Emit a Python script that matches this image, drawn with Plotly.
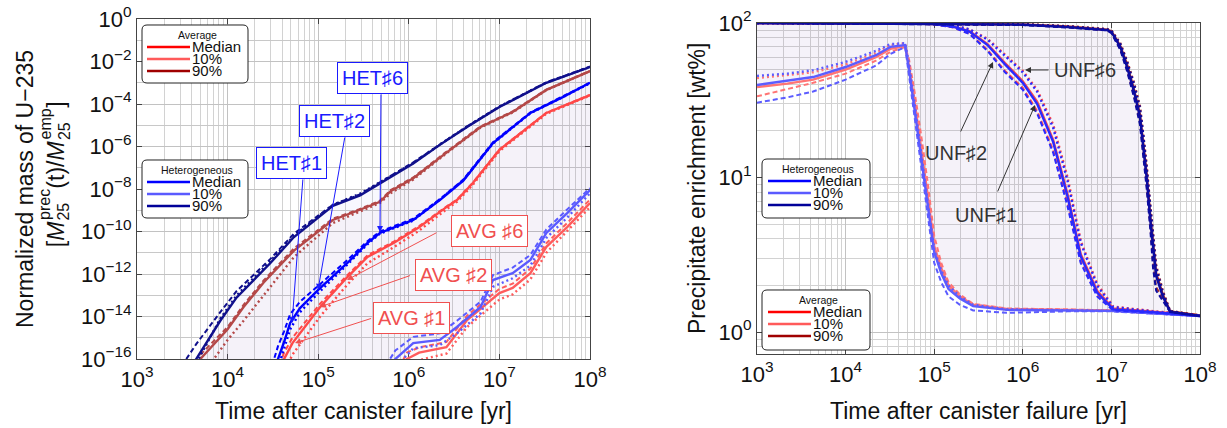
import plotly.graph_objects as go

W, H = 1227, 428
FONT = "Liberation Sans, Arial, sans-serif"

# ================= LEFT PANEL: normalized U-235 mass =================
# HET 90th percentile (cases #1 solid, #2 dashed, #6 dotted)
het90_t = [3.5e3, 4.5e3, 8.3e3, 1.26e4, 2.95e4, 5.4e4, 1e5, 1.45e5, 2.9e5, 5.2e5,
           1.12e6, 2.24e6, 4.4e6, 1e7, 3.3e7, 1e8]
het90_c1 = [1.6e-17, 1e-16, 6.3e-15, 7.9e-14, 3.2e-12, 5.5e-11, 4.5e-10, 1.6e-9, 5e-9, 2.2e-8,
            1.6e-7, 1.26e-6, 8.3e-6, 7.2e-5, 1e-3, 5.5e-3]
het90_c2 = [1e-16, 5e-16, 1.6e-14, 1.6e-13, 5e-12, 7.9e-11, 5.6e-10, 1.8e-9, 5.6e-9, 2.5e-8,
            1.8e-7, 1.3e-6, 8.9e-6, 7.6e-5, 1.05e-3, 5.8e-3]
het90_c6 = [1e-17, 6.3e-17, 7.9e-15, 1e-13, 4e-12, 6.3e-11, 5e-10, 1.8e-9, 6e-9, 2.5e-8,
            1.66e-7, 1.3e-6, 8.7e-6, 7.6e-5, 1.02e-3, 5.6e-3]

# AVG 90th percentile
avg90_t = [5.0e3, 1e4, 1.5e4, 2.5e4, 5.4e4, 1.45e5, 2.8e5, 4.8e5, 6.3e5, 1.12e6,
           2.5e6, 6.2e6, 1.4e7, 3.3e7, 1e8]
avg90_c1 = [1e-16, 2.5e-15, 2.8e-14, 4e-13, 1.26e-11, 3.5e-10, 1e-9, 2.5e-9, 7.9e-9, 3.2e-8,
            4.5e-7, 8.3e-6, 4.2e-5, 4.6e-4, 3.5e-3]
avg90_c2 = [1.6e-16, 3.2e-15, 3.5e-14, 5e-13, 1.6e-11, 4e-10, 1.1e-9, 2.8e-9, 8.9e-9, 3.5e-8,
            5e-7, 8.9e-6, 4.5e-5, 4.8e-4, 3.6e-3]
avg90_c6 = [1.3e-17, 7.9e-16, 6.3e-15, 1e-13, 6.3e-12, 2.5e-10, 7.9e-10, 2.2e-9, 6.3e-9, 2.8e-8,
            4.2e-7, 7.9e-6, 4e-5, 4.5e-4, 3.5e-3]

# HET median
het50_t = [3.1e4, 3.6e4, 4.2e4, 4.9e4, 6.3e4, 1e5, 2.1e5, 3.5e5, 4.8e5, 1.12e6,
           2.2e6, 4e6, 8.5e6, 2.2e7, 5e7, 1e8]
het50_c1 = [1e-17, 1e-16, 6.3e-16, 5e-15, 2.5e-14, 1.8e-13, 3.3e-12, 2.9e-11, 8.5e-11, 3.5e-10,
            3e-9, 2.5e-8, 1.45e-6, 3.8e-5, 2.1e-4, 1e-3]
het50_c2 = [5e-17, 4e-16, 2e-15, 1.26e-14, 5e-14, 2.8e-13, 4.5e-12, 3.5e-11, 1e-10, 4e-10,
            3.3e-9, 2.8e-8, 1.6e-6, 4e-5, 2.2e-4, 1e-3]
het50_c6 = [5e-18, 4e-17, 3.2e-16, 2.5e-15, 1.6e-14, 1.26e-13, 2.8e-12, 2.5e-11, 7.9e-11, 3.3e-10,
            3.2e-9, 2.6e-8, 1.4e-6, 3.7e-5, 2.1e-4, 9.5e-4]

# AVG median
avg50_t = [3.5e4, 4.2e4, 5.2e4, 1.05e5, 2.1e5, 3.5e5, 6.8e5, 1.3e6, 2.6e6, 3.4e6,
           5.1e6, 1e7, 3.3e7, 1e8]
avg50_c1 = [1e-17, 1e-16, 5.6e-16, 2.8e-14, 7.2e-13, 6.3e-12, 2.9e-11, 1.6e-10, 1.4e-9, 3e-9,
            1.9e-8, 6.9e-7, 3.8e-5, 2.6e-4]
avg50_c2 = [2.5e-17, 2e-16, 1e-15, 4e-14, 8.9e-13, 7.6e-12, 3.3e-11, 1.8e-10, 1.5e-9, 3.2e-9,
            2e-8, 7.2e-7, 3.9e-5, 2.7e-4]
avg50_c6 = [3.2e-18, 2.5e-17, 1.6e-16, 1e-14, 3.2e-13, 3.2e-12, 1.8e-11, 1.1e-10, 1.1e-9, 2.5e-9,
            1.6e-8, 6e-7, 3.5e-5, 2.5e-4]

# HET 10th percentile
het10_t = [5.6e5, 7.1e5, 1.12e6, 2.2e6, 3.4e6, 6.2e6, 8.5e6, 1.4e7, 2.2e7, 3.3e7, 5.6e7, 1e8]
het10_c1 = [1.6e-17, 1e-16, 5.6e-16, 7.9e-16, 3.2e-15, 2.8e-14, 5.2e-13, 1.1e-12, 4.6e-12,
            8.5e-11, 7.4e-10, 8.9e-9]
het10_c2 = [5e-17, 2.5e-16, 1.1e-15, 1.6e-15, 6.3e-15, 5e-14, 8.9e-13, 2e-12, 7.9e-12,
            1.26e-10, 1.1e-9, 1.1e-8]
het10_c6 = [5e-18, 4e-17, 3.2e-16, 4.5e-16, 1.6e-15, 1.4e-14, 2.5e-13, 6.3e-13, 2.5e-12,
            5e-11, 4.5e-10, 6.3e-9]

# AVG 10th percentile
avg10_t = [7.9e5, 9.5e5, 1.3e6, 2.6e6, 4.4e6, 1e7, 1.4e7, 2.2e7, 3.3e7, 5.6e7, 1e8]
avg10_c1 = [1.6e-17, 1e-16, 2e-16, 3.6e-16, 6.8e-15, 1.26e-13, 2.2e-13, 1.1e-12, 1.9e-11,
            1.6e-10, 2.2e-9]
avg10_c2 = [4e-17, 2e-16, 3.5e-16, 6.3e-16, 1.1e-14, 2e-13, 3.5e-13, 1.8e-12, 2.8e-11,
            2.5e-10, 3.2e-9]
avg10_c6 = [6.3e-18, 4e-17, 8.9e-17, 1.8e-16, 3.2e-15, 6.3e-14, 1.1e-13, 5.6e-13, 1e-11,
            1e-10, 1.4e-9]

# ================= RIGHT PANEL: precipitate enrichment [wt%] =================
r10_t = [1e3, 2.2e3, 4.3e3, 1e4, 2.2e4, 3.2e4, 4.7e4, 5.2e4, 6e4, 7.2e4, 8.5e4, 1e5,
         1.2e5, 1.45e5, 1.95e5, 2.75e5, 6.6e5, 3.2e6, 1e7, 1e8]
e_het10_c1 = [39.7, 42.5, 44.7, 51.9, 61.9, 70, 72, 50, 28, 13, 6.5, 3.3, 2.4, 1.9, 1.65, 1.47, 1.39, 1.38, 1.37, 1.27]
e_het10_c2 = [30.5, 33, 36, 43, 53, 63, 70, 45, 24, 11, 5.5, 2.8, 2.1, 1.7, 1.5, 1.38, 1.33, 1.36, 1.36, 1.27]
e_het10_c6 = [45.5, 47, 49.5, 56, 66, 73, 74, 54, 30, 14, 7, 3.4, 2.5, 2.0, 1.7, 1.5, 1.4, 1.39, 1.37, 1.27]
e_avg10_c1 = [38.5, 40.5, 43, 50, 60, 68, 71, 52, 31, 15, 7.5, 3.6, 2.6, 2.0, 1.7, 1.5, 1.41, 1.39, 1.38, 1.28]
e_avg10_c2 = [33.5, 37.5, 41, 47, 57, 65, 70, 58, 36, 18, 9, 4.2, 2.8, 2.1, 1.75, 1.52, 1.42, 1.4, 1.38, 1.28]
e_avg10_c6 = [44, 46, 48, 54, 64, 72, 74, 53, 30, 14, 7, 3.5, 2.5, 2.0, 1.7, 1.5, 1.4, 1.39, 1.37, 1.27]

r50_t = [1e3, 5e4, 1e5, 1.6e5, 2.5e5, 4e5, 6.3e5, 1e6, 1.45e6, 2.2e6, 3.2e6, 4.5e6, 6.9e6,
         1.05e7, 3.2e7, 1e8]
e_het50_c1 = [100, 100, 98.5, 95, 88, 72, 54, 41, 30, 17, 7.5, 3.1, 1.8, 1.4, 1.34, 1.27]
e_het50_c2 = [100, 100, 98, 94, 85, 66, 48, 37, 26, 14.5, 6.5, 2.8, 1.7, 1.38, 1.33, 1.27]
e_het50_c6 = [100, 100, 99, 96.5, 91, 78, 61, 48, 36, 21, 9.5, 3.8, 2.0, 1.45, 1.35, 1.27]
e_avg50_c1 = [100, 100, 98.5, 95, 88.5, 73, 55, 42, 31, 17.5, 7.8, 3.2, 1.85, 1.42, 1.35, 1.28]
e_avg50_c2 = [100, 100, 98, 94, 85.5, 67, 49, 38, 27, 15, 6.8, 2.9, 1.75, 1.4, 1.34, 1.28]
e_avg50_c6 = [100, 100, 99, 96.5, 91, 79, 62, 49, 37, 22, 10, 3.9, 2.05, 1.46, 1.36, 1.28]

r90_t = [1e3, 1e6, 3.2e6, 8.9e6, 1e7, 1.26e7, 1.5e7, 1.8e7, 2.1e7, 2.3e7, 2.5e7, 2.75e7,
         2.95e7, 3.2e7, 3.8e7, 4.6e7, 1e8]
e_het90_c1 = [100, 97.5, 94, 90, 87.5, 70, 52, 36, 24.6, 16, 10, 5.3, 3.4, 2.3, 1.7, 1.35, 1.27]
e_het90_c2 = [100, 97, 93.5, 89.5, 86, 67, 49, 33, 22, 14, 8.5, 4.6, 2.6, 1.85, 1.6, 1.35, 1.27]
e_het90_c6 = [100, 98, 95, 91, 89, 73, 56, 40, 28, 18.5, 11.5, 6.2, 3.9, 2.6, 1.8, 1.36, 1.27]
e_avg90_c1 = [100, 98, 95, 90.5, 88.5, 71, 54, 37, 25.5, 16.5, 10.5, 5.6, 3.6, 2.4, 1.75, 1.36, 1.28]
e_avg90_c2 = [100, 97.5, 94, 90, 87, 68, 50, 34, 23, 14.5, 9, 4.9, 2.8, 1.95, 1.65, 1.36, 1.28]
e_avg90_c6 = [100, 98.5, 95.5, 91.5, 89.5, 74, 57, 41, 29, 19, 12, 6.5, 4.1, 2.7, 1.85, 1.37, 1.28]

# tick definitions
x_ticks = [1e3, 1e4, 1e5, 1e6, 1e7, 1e8]
x_ticktext = ["10<sup>3</sup>", "10<sup>4</sup>", "10<sup>5</sup>", "10<sup>6</sup>",
              "10<sup>7</sup>", "10<sup>8</sup>"]
yl_ticks = [1e-16, 1e-14, 1e-12, 1e-10, 1e-8, 1e-6, 1e-4, 1e-2, 1]
yl_ticktext = ["10<sup>−16</sup>", "10<sup>−14</sup>", "10<sup>−12</sup>", "10<sup>−10</sup>",
               "10<sup>−8</sup>", "10<sup>−6</sup>", "10<sup>−4</sup>", "10<sup>−2</sup>", "10<sup>0</sup>"]
yl_minor = [1e-15, 1e-13, 1e-11, 1e-9, 1e-7, 1e-5, 1e-3, 1e-1]
yr_ticks = [1, 10, 100]
yr_ticktext = ["10<sup>0</sup>", "10<sup>1</sup>", "10<sup>2</sup>"]
x_minor = [m * 10 ** d for d in range(3, 8) for m in range(2, 10)]
yr_minor = [0.8, 0.9] + [m * 10 ** d for d in range(0, 2) for m in range(2, 10)]

# ---------------- styles ----------------
L_HET90, L_AVG90 = "#10108c", "#b44848"
L_HET50, L_AVG50 = "#0000ff", "#ff4848"
L_HET10, L_AVG10 = "#5a5aff", "#ff5c5c"
R_HET90, R_AVG90 = "#0c0ca0", "#a52a2a"
R_HET50, R_AVG50 = "#2a2aff", "#ff4a4a"
R_HET10, R_AVG10 = "#5c5cff", "#ff7474"
FILL_HET = "rgba(90,100,235,0.045)"
FILL_AVG = "rgba(190,90,120,0.04)"
DASH = {"c1": "solid", "c2": "5px,3px", "c6": "2px,3px"}
WID = {"c1": 2.4, "c2": 2.0, "c6": 2.4}

fig = go.Figure()


def add_fill(t_up, y_up, t_lo, y_lo, color, xa, ya):
    fig.add_trace(go.Scatter(x=list(t_up) + list(t_lo)[::-1], y=list(y_up) + list(y_lo)[::-1],
                             fill="toself", fillcolor=color, mode="lines", line=dict(width=0),
                             xaxis=xa, yaxis=ya, hoverinfo="skip", showlegend=False))


def add_group(t, series, color, xa, ya, name):
    for key, y in series:
        fig.add_trace(go.Scatter(x=t, y=y, mode="lines", name=f"{name} {key}",
                                 line=dict(color=color, width=WID[key], dash=DASH[key]),
                                 xaxis=xa, yaxis=ya, showlegend=False))


# left fills
add_fill(het90_t, het90_c1, het10_t, het10_c1, FILL_HET, "x", "y")
add_fill(avg90_t, avg90_c1, avg10_t, avg10_c1, FILL_AVG, "x", "y")
# left lines
add_group(avg10_t, [("c1", avg10_c1), ("c2", avg10_c2), ("c6", avg10_c6)], L_AVG10, "x", "y", "AVG 10%")
add_group(het10_t, [("c1", het10_c1), ("c2", het10_c2), ("c6", het10_c6)], L_HET10, "x", "y", "HET 10%")
add_group(avg50_t, [("c1", avg50_c1), ("c2", avg50_c2), ("c6", avg50_c6)], L_AVG50, "x", "y", "AVG median")
add_group(het50_t, [("c1", het50_c1), ("c2", het50_c2), ("c6", het50_c6)], L_HET50, "x", "y", "HET median")
add_group(avg90_t, [("c1", avg90_c1), ("c2", avg90_c2), ("c6", avg90_c6)], L_AVG90, "x", "y", "AVG 90%")
add_group(het90_t, [("c1", het90_c1), ("c2", het90_c2), ("c6", het90_c6)], L_HET90, "x", "y", "HET 90%")

# right fills
add_fill(r90_t, e_het90_c1, r10_t, e_het10_c1, FILL_HET, "x2", "y2")
add_fill(r90_t, e_avg90_c1, r10_t, e_avg10_c1, FILL_AVG, "x2", "y2")
# right lines (red under blue)
add_group(r10_t, [("c1", e_avg10_c1), ("c2", e_avg10_c2), ("c6", e_avg10_c6)], R_AVG10, "x2", "y2", "AVG 10%")
add_group(r50_t, [("c1", e_avg50_c1), ("c2", e_avg50_c2), ("c6", e_avg50_c6)], R_AVG50, "x2", "y2", "AVG median")
add_group(r90_t, [("c1", e_avg90_c1), ("c2", e_avg90_c2), ("c6", e_avg90_c6)], R_AVG90, "x2", "y2", "AVG 90%")
add_group(r10_t, [("c1", e_het10_c1), ("c2", e_het10_c2), ("c6", e_het10_c6)], R_HET10, "x2", "y2", "HET 10%")
add_group(r50_t, [("c1", e_het50_c1), ("c2", e_het50_c2), ("c6", e_het50_c6)], R_HET50, "x2", "y2", "HET median")
add_group(r90_t, [("c1", e_het90_c1), ("c2", e_het90_c2), ("c6", e_het90_c6)], R_HET90, "x2", "y2", "HET 90%")

# ---------------- axes ----------------
def axis(**kw):
    base = dict(type="log", showline=True, linecolor="#444", linewidth=1.2, mirror="ticks",
                ticks="inside", ticklen=5, tickcolor="#444", tickwidth=1, automargin=False,
                showgrid=True, gridcolor="#c2c2c2", gridwidth=1, zeroline=False,
                tickfont=dict(family=FONT, size=22, color="#111"), layer="below traces")
    base.update(kw)
    return base


fig.update_layout(
    width=W, height=H, margin=dict(l=0, r=0, t=0, b=0, autoexpand=False),
    paper_bgcolor="white", plot_bgcolor="white",
    xaxis=axis(domain=[137 / W, 590 / W], range=[3, 8], tickvals=x_ticks, ticktext=x_ticktext,
               minor=dict(tickvals=x_minor, showgrid=True, gridcolor="#d2d2d2", ticks=""),
               anchor="y"),
    yaxis=axis(domain=[1 - 359 / H, 1 - 19 / H], range=[-16, 0], tickvals=yl_ticks, ticktext=yl_ticktext,
               minor=dict(tickvals=yl_minor, showgrid=True, gridcolor="#c8c8c8", ticks=""),
               anchor="x"),
    xaxis2=axis(domain=[757 / W, 1200 / W], range=[3, 8], tickvals=x_ticks, ticktext=x_ticktext,
                minor=dict(tickvals=x_minor, showgrid=True, gridcolor="#d2d2d2", ticks=""),
                anchor="y2"),
    yaxis2=axis(domain=[1 - 354 / H, 1 - 23 / H], range=[-0.1424, 2], tickvals=yr_ticks, ticktext=yr_ticktext,
                minor=dict(tickvals=yr_minor, showgrid=True, gridcolor="#d2d2d2", ticks=""),
                anchor="x2"),
)

ann = []
shapes = []


def P(x, y):
    return x / W, 1 - y / H


# axis titles
TF = dict(family=FONT, size=23, color="#111")
for cx in (363.5, 978.5):
    px_, py_ = P(cx, 411)
    ann.append(dict(text="Time after canister failure [yr]", x=px_, y=py_, xref="paper", yref="paper",
                    showarrow=False, font=TF, xanchor="center", yanchor="middle"))
px_, py_ = P(25, 189)
ann.append(dict(text="Normalized mass of U−235", x=px_, y=py_, xref="paper", yref="paper",
                showarrow=False, font=TF, textangle=-90, xanchor="center", yanchor="middle"))
px_, py_ = P(697, 189)
ann.append(dict(text="Precipitate enrichment [wt%]", x=px_, y=py_, xref="paper", yref="paper",
                showarrow=False, font=TF, textangle=-90, xanchor="center", yanchor="middle"))

# second title line: [M_25^prec(t)/M_25^emp] with stacked sub/superscripts
SUB = 16
pieces = []   # (text, x_center, length_px, size, is_stack_top, stack_bottom_text)
y_cur = 247.0
MAIN_X, SUP_X, SUBX = 56, 45, 64


def rot_text(txt, x, yc, size):
    a, b = P(x, yc)
    ann.append(dict(text=txt, x=a, y=b, xref="paper", yref="paper", showarrow=False,
                    font=dict(family=FONT, size=size, color="#111"), textangle=-90,
                    xanchor="center", yanchor="middle"))


def main_piece(txt, em):
    global y_cur
    L = em * 23
    rot_text(txt, MAIN_X, y_cur - L / 2, 23)
    y_cur -= L + 1


def stack_piece(top, top_em, bot, bot_em):
    global y_cur
    Lt, Lb = top_em * SUB, bot_em * SUB
    rot_text(top, SUP_X, y_cur - Lt / 2, SUB)
    rot_text(bot, SUBX, y_cur - Lb / 2, SUB)
    y_cur -= max(Lt, Lb) + 1


main_piece("[<i>M</i>", 1.11)
stack_piece("prec", 1.945, "25", 1.112)
main_piece("(t)/<i>M</i>", 2.06)
stack_piece("emp", 1.945, "25", 1.112)
main_piece("]", 0.28)


# ---------------- custom legend boxes ----------------
def rr_path(x0, y0, x1, y1, r=5):
    def p(x, y):
        a, b = P(x, y)
        return f"{a:.5f},{b:.5f}"
    return (f"M {p(x0 + r, y0)} L {p(x1 - r, y0)} Q {p(x1, y0)} {p(x1, y0 + r)} "
            f"L {p(x1, y1 - r)} Q {p(x1, y1)} {p(x1 - r, y1)} L {p(x0 + r, y1)} "
            f"Q {p(x0, y1)} {p(x0, y1 - r)} L {p(x0, y0 + r)} Q {p(x0, y0)} {p(x0 + r, y0)} Z")


def legend_box(x0, y0, x1, y1, title, rows, lx0, lx1):
    shapes.append(dict(type="path", xref="paper", yref="paper", path=rr_path(x0, y0, x1, y1),
                       fillcolor="white", line=dict(color="#222", width=1), layer="above"))
    tx, ty = P((x0 + x1) / 2 + 2, y0 + 10)
    ann.append(dict(text=title, x=tx, y=ty, xref="paper", yref="paper", showarrow=False,
                    font=dict(family=FONT, size=10.5, color="#111"), xanchor="center", yanchor="middle"))
    for i, (lab, col) in enumerate(rows):
        yy = y0 + 22 + 12 * i
        a0, b0 = P(lx0, yy)
        a1, _ = P(lx1, yy)
        shapes.append(dict(type="line", xref="paper", yref="paper", x0=a0, x1=a1, y0=b0, y1=b0,
                           line=dict(color=col, width=2.5), layer="above"))
        ann.append(dict(text=lab, x=a1, y=b0 + 0.5 / H, xref="paper", yref="paper", showarrow=False,
                        font=dict(family=FONT, size=15, color="#111"), xanchor="left", yanchor="middle"))


AVG_ROWS = [("Median", "#ff0000"), ("10%", "#ff5a5a"), ("90%", "#a00000")]
HET_ROWS = [("Median", "#0000ff"), ("10%", "#5a5aff"), ("90%", "#000099")]
legend_box(142, 25, 248, 83, "Average", AVG_ROWS, 147, 190)
legend_box(142, 160, 248, 218, "Heterogeneous", HET_ROWS, 147, 190)
legend_box(762, 159, 870, 218, "Heterogeneous", HET_ROWS, 768, 811)
legend_box(762, 290, 870, 350, "Average", AVG_ROWS, 768, 811)

# ---------------- case annotations (log-axis coordinates) ----------------
BLUE_T = "#1a1aff"
RED_T = "#f05050"
GREY_T = "#333333"
box_labels = [
    ("HET♯6", 5.599, -2.78, BLUE_T), ("HET♯2", 5.18, -4.78, BLUE_T), ("HET♯1", 4.70, -6.78, BLUE_T),
    ("AVG ♯6", 6.891, -9.98, RED_T), ("AVG ♯2", 6.488, -12.05, RED_T), ("AVG ♯1", 6.035, -14.07, RED_T),
]
for txt, lx, ly, col in box_labels:
    ann.append(dict(text=txt, x=lx, y=ly, xref="x", yref="y", showarrow=False,
                    font=dict(family=FONT, size=20, color=col), bordercolor=col, borderwidth=1,
                    borderpad=4, bgcolor="white"))

arrows_left = [
    (5.682, -10.02, 5.693, -3.48, BLUE_T), (4.998, -12.75, 5.296, -5.506, BLUE_T),
    (4.711, -14.31, 4.832, -7.48, BLUE_T),
    (5.318, -12.28, 6.322, -10.02, RED_T), (5.02, -13.55, 6.03, -12.05, RED_T),
    (4.744, -15.25, 5.60, -14.07, RED_T),
]
for x, y, ax, ay, col in arrows_left:
    ann.append(dict(text="", x=x, y=y, ax=ax, ay=ay, xref="x", yref="y", axref="x", ayref="y",
                    showarrow=True, arrowhead=2, arrowsize=1.2, arrowwidth=1, arrowcolor=col))

unf_labels = [("UNF♯6", 6.702, 1.696), ("UNF♯2", 5.246, 1.159), ("UNF♯1", 5.585, 0.757)]
for txt, lx, ly in unf_labels:
    ann.append(dict(text=txt, x=lx, y=ly, xref="x2", yref="y2", showarrow=False,
                    font=dict(family=FONT, size=20, color=GREY_T)))
arrows_right = [(6.025, 1.696, 6.307, 1.696), (5.664, 1.748, 5.291, 1.288), (6.138, 1.469, 5.709, 0.900)]
for x, y, ax, ay in arrows_right:
    ann.append(dict(text="", x=x, y=y, ax=ax, ay=ay, xref="x2", yref="y2", axref="x2", ayref="y2",
                    showarrow=True, arrowhead=2, arrowsize=1.2, arrowwidth=1, arrowcolor=GREY_T))

fig.update_layout(annotations=ann, shapes=shapes)
fig.write_html("out.html")
